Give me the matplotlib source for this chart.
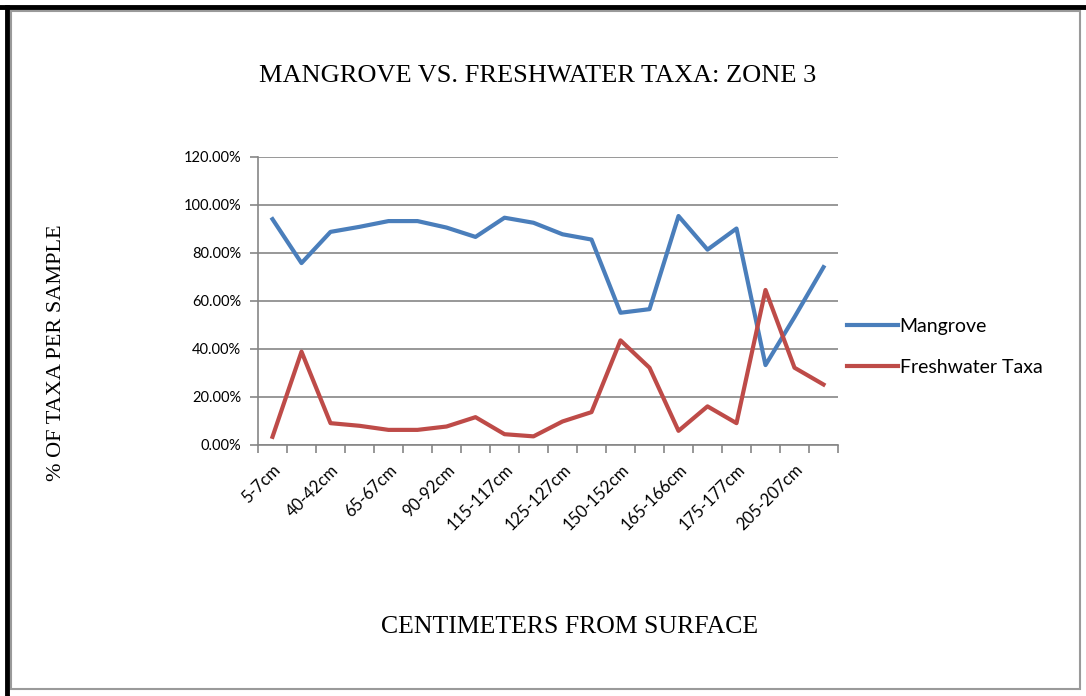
import matplotlib
matplotlib.use("Agg")
import matplotlib.pyplot as plt
from matplotlib.lines import Line2D
from matplotlib.ticker import FuncFormatter, MultipleLocator

# Sample depth intervals (every other one is labelled on the axis)
depths = [
    "5-7cm", "20-22cm", "40-42cm", "50-52cm", "65-67cm", "75-77cm",
    "90-92cm", "100-102cm", "115-117cm", "120-122cm", "125-127cm", "135-137cm",
    "150-152cm", "155-157cm", "165-166cm", "170-172cm", "175-177cm", "185-187cm",
    "205-207cm", "215-217cm",
]

# Percent of taxa per sample
mangrove = [94.1, 75.8, 88.8, 90.9, 93.3, 93.3, 90.6, 86.7, 94.7, 92.6,
            87.8, 85.6, 55.1, 56.6, 95.4, 81.4, 90.2, 33.3, 53.3, 74.1]
freshwater = [3.4, 38.9, 9.1, 8.0, 6.3, 6.3, 7.7, 11.6, 4.5, 3.6,
              9.8, 13.7, 43.6, 32.2, 5.9, 16.1, 9.1, 64.6, 32.2, 25.2]

W, H = 1086, 696
fig = plt.figure(figsize=(W / 100, H / 100), dpi=100)
fig.patch.set_facecolor("white")

left, right, top, bottom = 258, 838, 157, 445
ax = fig.add_axes([left / W, 1 - bottom / H, (right - left) / W, (bottom - top) / H])

x = list(range(len(depths)))
blue = "#4A7EBB"
red = "#BE4B48"
ax.plot(x, mangrove, color=blue, lw=3.0, label="Mangrove", solid_joinstyle="round")
ax.plot(x, freshwater, color=red, lw=3.0, label="Freshwater Taxa", solid_joinstyle="round")

ax.set_xlim(-0.5, len(depths) - 0.5)
ax.set_ylim(0, 120)
ax.yaxis.set_major_locator(MultipleLocator(20))
ax.yaxis.set_major_formatter(FuncFormatter(lambda v, p: f"{v:.2f}%"))
ax.grid(axis="y", color="#868686", lw=1.2)
ax.set_axisbelow(True)

# category boundaries carry the tick marks; labels sit at the centres
ax.set_xticks([i - 0.5 for i in range(len(depths) + 1)])
ax.set_xticklabels([])
ax.set_xticks(x[::2], minor=True)
ax.set_xticklabels(depths[::2], minor=True, rotation=45, ha="right",
                   rotation_mode="anchor", fontfamily="Lato", fontsize=12)
ax.tick_params(axis="x", which="major", length=6, width=1.2, color="#868686", direction="out")
ax.tick_params(axis="x", which="minor", length=0, pad=12)
ax.tick_params(axis="y", length=6, width=1.2, color="#868686", labelsize=10.5, pad=6)
for lab in ax.get_yticklabels():
    lab.set_fontfamily("Lato")

for s in ["top", "right"]:
    ax.spines[s].set_visible(False)
for s in ["left", "bottom"]:
    ax.spines[s].set_color("#868686")
    ax.spines[s].set_linewidth(1.2)

serif = "Liberation Serif"
fig.text(538 / W, 1 - 76 / H, "MANGROVE VS. FRESHWATER TAXA: ZONE 3",
         ha="center", va="center", fontfamily=serif, fontsize=19)
fig.text(570 / W, 1 - 627 / H, "CENTIMETERS FROM SURFACE",
         ha="center", va="center", fontfamily=serif, fontsize=18.5)
fig.text(57 / W, 1 - 353 / H, "% OF TAXA PER SAMPLE", rotation=90,
         ha="center", va="center", fontfamily=serif, fontsize=16)

leg = ax.legend(loc="center left", bbox_to_anchor=(847 / W, 1 - 347 / H),
                bbox_transform=fig.transFigure, frameon=False,
                prop={"family": "Lato", "size": 14}, handlelength=2.6,
                handletextpad=0.1, labelspacing=1.25, borderpad=0, borderaxespad=0)

# picture frame: heavy dark edge at top/left, thin grey inner border
fig.add_artist(Line2D([0, 1], [1 - 7 / H, 1 - 7 / H], color="black", lw=3.5,
                      transform=fig.transFigure))
fig.add_artist(Line2D([7 / W, 7 / W], [0, 1 - 7 / H], color="black", lw=3.5,
                      transform=fig.transFigure))
fig.add_artist(plt.Rectangle((11 / W, 1 - 689 / H), (1080 - 11) / W, (689 - 11) / H,
                             fill=False, edgecolor="#9a9a9a", lw=1.5,
                             transform=fig.transFigure))

fig.savefig("out.png", dpi=100)
